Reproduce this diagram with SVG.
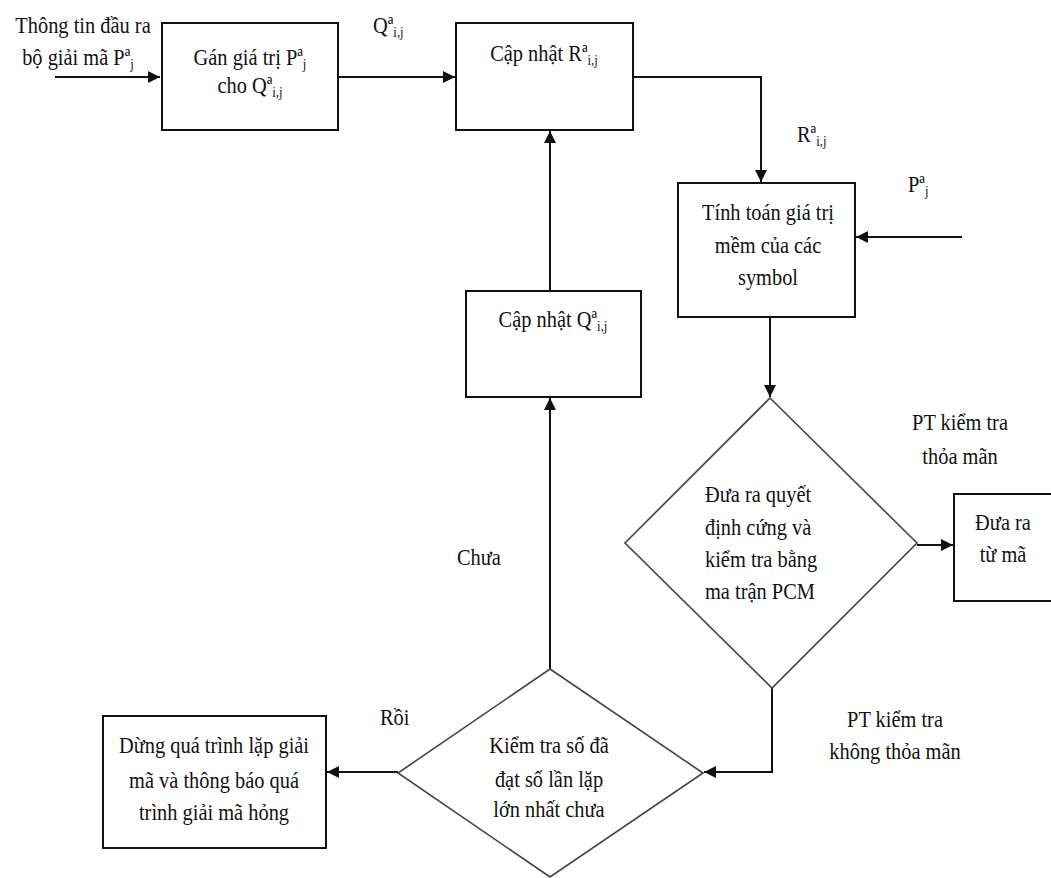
<svg xmlns="http://www.w3.org/2000/svg" width="1051" height="878" viewBox="0 0 1051 878">
<style>
.box{fill:#fff;stroke:#111;stroke-width:2}
.dia{fill:#fff;stroke:#444;stroke-width:1.6}
.ln{fill:none;stroke:#111;stroke-width:2}
text{font-family:"Liberation Serif","Times New Roman",serif;font-size:24px;fill:#111}
.m{text-anchor:middle}
.sub{font-size:15px}
</style>
<defs>
<marker id="ah" markerUnits="userSpaceOnUse" markerWidth="13" markerHeight="13" refX="12" refY="6" orient="auto">
<path d="M0,0 L12,6 L0,12 z" fill="#111"/>
</marker>
</defs>
<rect width="1051" height="878" fill="#fff"/>

<g id="connectors">
<path class="ln" d="M55,77 H160" marker-end="url(#ah)"/>
<path class="ln" d="M338,77 H455" marker-end="url(#ah)"/>
<path class="ln" d="M633,77 H761 V182" marker-end="url(#ah)"/>
<path class="ln" d="M962,237 H856" marker-end="url(#ah)"/>
<path class="ln" d="M770,317 V397" marker-end="url(#ah)"/>
<path class="ln" d="M917,545 H953" marker-end="url(#ah)"/>
<path class="ln" d="M772,688 V772 H704" marker-end="url(#ah)"/>
<path class="ln" d="M398,772 H327" marker-end="url(#ah)"/>
<path class="ln" d="M550,669 V398" marker-end="url(#ah)"/>
<path class="ln" d="M550,291 V131" marker-end="url(#ah)"/>
</g>

<g id="labels">
<text class="m" transform="translate(83,33) scale(0.85,1)">Thông tin đầu ra</text>
<text class="m" transform="translate(78,65) scale(0.85,1)">bộ giải mã Pª<tspan class="sub" dy="4">j</tspan></text>
<text transform="translate(373,33) scale(0.85,1)">Qª<tspan class="sub" dy="4">i,j</tspan></text>
<text transform="translate(797,142) scale(0.85,1)">Rª<tspan class="sub" dy="4">i,j</tspan></text>
<text transform="translate(908,192) scale(0.85,1)">Pª<tspan class="sub" dy="4">j</tspan></text>
<text class="m" transform="translate(960,430) scale(0.85,1)">PT kiểm tra</text>
<text class="m" transform="translate(960,464) scale(0.85,1)">thỏa mãn</text>
<text class="m" transform="translate(895,727) scale(0.85,1)">PT kiểm tra</text>
<text class="m" transform="translate(895,759) scale(0.85,1)">không thỏa mãn</text>
<text transform="translate(380,725) scale(0.85,1)">Rồi</text>
<text transform="translate(457,565) scale(0.85,1)">Chưa</text>
</g>

<g id="node-gan">
<rect class="box" x="162" y="23" width="176" height="107"/>
<text class="m" transform="translate(250,65) scale(0.85,1)">Gán giá trị Pª<tspan class="sub" dy="4">j</tspan></text>
<text class="m" transform="translate(250,93) scale(0.85,1)">cho Qª<tspan class="sub" dy="4">i,j</tspan></text>
</g>

<g id="node-capnhat-r">
<rect class="box" x="456" y="23" width="177" height="107"/>
<text class="m" transform="translate(544,61) scale(0.85,1)">Cập nhật Rª<tspan class="sub" dy="4">i,j</tspan></text>
</g>

<g id="node-tinhtoan">
<rect class="box" x="678" y="183" width="177" height="134"/>
<text class="m" transform="translate(768,220) scale(0.85,1)">Tính toán giá trị</text>
<text class="m" transform="translate(768,253) scale(0.85,1)">mềm của các</text>
<text class="m" transform="translate(768,285) scale(0.85,1)">symbol</text>
</g>

<g id="node-capnhat-q">
<rect class="box" x="466" y="291" width="175" height="106"/>
<text class="m" transform="translate(553,327) scale(0.85,1)">Cập nhật Qª<tspan class="sub" dy="4">i,j</tspan></text>
</g>

<g id="node-quyetdinh">
<polygon class="dia" points="770,398 917,543 772,688 625,543"/>
<text transform="translate(705,502) scale(0.85,1)">Đưa ra quyết</text>
<text transform="translate(705,535) scale(0.85,1)">định cứng và</text>
<text transform="translate(705,567) scale(0.85,1)">kiểm tra bằng</text>
<text transform="translate(705,599) scale(0.85,1)">ma trận PCM</text>
</g>

<g id="node-duara">
<rect class="box" x="954" y="494" width="110" height="107"/>
<text class="m" transform="translate(1003,530) scale(0.85,1)">Đưa ra</text>
<text class="m" transform="translate(1003,562) scale(0.85,1)">từ mã</text>
</g>

<g id="node-kiemtra">
<polygon class="dia" points="550,669 703,773 550,877 398,773"/>
<text class="m" transform="translate(549,753) scale(0.85,1)">Kiểm tra số đã</text>
<text class="m" transform="translate(549,787) scale(0.85,1)">đạt số lần lặp</text>
<text class="m" transform="translate(549,817) scale(0.85,1)">lớn nhất chưa</text>
</g>

<g id="node-dung">
<rect class="box" x="103" y="716" width="223" height="132"/>
<text class="m" transform="translate(214,753) scale(0.85,1)">Dừng quá trình lặp giải</text>
<text class="m" transform="translate(214,788) scale(0.85,1)">mã và thông báo quá</text>
<text class="m" transform="translate(214,820) scale(0.85,1)">trình giải mã hỏng</text>
</g>
</svg>
